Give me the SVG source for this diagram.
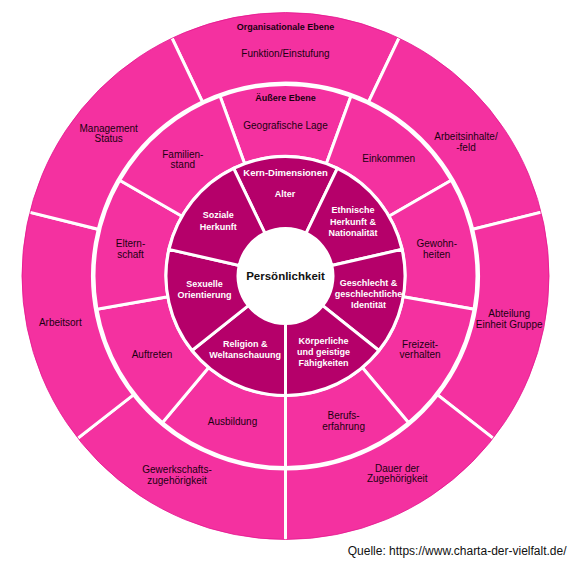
<svg xmlns="http://www.w3.org/2000/svg" width="576" height="564" viewBox="0 0 576 564">
<style>
.o{fill:#F431A0;stroke:#fff;stroke-width:3;stroke-linejoin:miter}
.i{fill:#B5006A;stroke:#fff;stroke-width:3}
text{font-family:"Liberation Sans",Arial,sans-serif;text-anchor:middle}
.t{font-size:10px;fill:#1a0010}
.h{font-size:9px;font-weight:bold;fill:#1a0010}
.w{font-size:9px;font-weight:bold;fill:#fff}
.wh{font-size:9.5px;font-weight:bold;fill:#fff}
</style>
<rect width="576" height="564" fill="#fff"/>
<g id="outer-ring">
<g id="o-funktion"><path class="o" d="M171.41,36.81 A265,265 0 0 1 399.59,36.81 L368.59,101.8 A193,193 0 0 0 202.41,101.8 Z"/><text class="h" x="285.5" y="29.5">Organisationale Ebene</text><text class="t" x="285.5" y="57.3">Funktion/Einstufung</text></g>
<g id="o-arbeitsinhalte"><path class="o" d="M399.59,36.81 A265,265 0 0 1 542.63,211.89 L472.77,229.31 A193,193 0 0 0 368.59,101.8 Z"/><text class="t" x="466" y="140">Arbeitsinhalte/</text><text class="t" x="466" y="150.7">-feld</text></g>
<g id="o-abteilung"><path class="o" d="M542.63,211.89 A265,265 0 0 1 494.32,439.15 L437.59,394.82 A193,193 0 0 0 472.77,229.31 Z"/><text class="t" x="509.2" y="316.7">Abteilung</text><text class="t" x="509.2" y="327.7">Einheit Gruppe</text></g>
<g id="o-dauer"><path class="o" d="M494.32,439.15 A265,265 0 0 1 285.5,541 L285.5,469 A193,193 0 0 0 437.59,394.82 Z"/><text class="t" x="397.2" y="471.7">Dauer der</text><text class="t" x="397.2" y="482">Zugehörigkeit</text></g>
<g id="o-gewerkschaft"><path class="o" d="M285.5,541 A265,265 0 0 1 76.68,439.15 L133.41,394.82 A193,193 0 0 0 285.5,469 Z"/><text class="t" x="177" y="473.3">Gewerkschafts-</text><text class="t" x="177" y="484">zugehörigkeit</text></g>
<g id="o-arbeitsort"><path class="o" d="M76.68,439.15 A265,265 0 0 1 28.37,211.89 L98.23,229.31 A193,193 0 0 0 133.41,394.82 Z"/><text class="t" x="60.3" y="325.7">Arbeitsort</text></g>
<g id="o-management"><path class="o" d="M28.37,211.89 A265,265 0 0 1 171.41,36.81 L202.41,101.8 A193,193 0 0 0 98.23,229.31 Z"/><text class="t" x="108.7" y="131.7">Management</text><text class="t" x="108.7" y="142.3">Status</text></g>
<circle cx="285.5" cy="276" r="263.5" fill="none" stroke="#E3178E" stroke-width="0.8"/>
</g>
<g id="middle-ring">
<g id="m-geografie"><path class="o" d="M220,96.05 A191.5,191.5 0 0 1 351,96.05 L326.37,163.71 A119.5,119.5 0 0 0 244.63,163.71 Z"/><text class="h" x="285.5" y="101">Äußere Ebene</text><text class="t" x="285.5" y="129">Geografische Lage</text></g>
<g id="m-einkommen"><path class="o" d="M351,96.05 A191.5,191.5 0 0 1 451.34,180.25 L388.99,216.25 A119.5,119.5 0 0 0 326.37,163.71 Z"/><text class="t" x="388.7" y="162.3">Einkommen</text></g>
<g id="m-gewohnheiten"><path class="o" d="M451.34,180.25 A191.5,191.5 0 0 1 474.09,309.25 L403.18,296.75 A119.5,119.5 0 0 0 388.99,216.25 Z"/><text class="t" x="436.7" y="246.7">Gewohn-</text><text class="t" x="436.7" y="258.3">heiten</text></g>
<g id="m-freizeit"><path class="o" d="M474.09,309.25 A191.5,191.5 0 0 1 408.59,422.7 L362.31,367.54 A119.5,119.5 0 0 0 403.18,296.75 Z"/><text class="t" x="420.1" y="347.7">Freizeit-</text><text class="t" x="420.1" y="358.3">verhalten</text></g>
<g id="m-beruf"><path class="o" d="M408.59,422.7 A191.5,191.5 0 0 1 285.5,467.5 L285.5,395.5 A119.5,119.5 0 0 0 362.31,367.54 Z"/><text class="t" x="343.6" y="419.3">Berufs-</text><text class="t" x="343.6" y="430">erfahrung</text></g>
<g id="m-ausbildung"><path class="o" d="M285.5,467.5 A191.5,191.5 0 0 1 162.41,422.7 L208.69,367.54 A119.5,119.5 0 0 0 285.5,395.5 Z"/><text class="t" x="232.5" y="425">Ausbildung</text></g>
<g id="m-auftreten"><path class="o" d="M162.41,422.7 A191.5,191.5 0 0 1 96.91,309.25 L167.82,296.75 A119.5,119.5 0 0 0 208.69,367.54 Z"/><text class="t" x="152" y="357.7">Auftreten</text></g>
<g id="m-elternschaft"><path class="o" d="M96.91,309.25 A191.5,191.5 0 0 1 119.66,180.25 L182.01,216.25 A119.5,119.5 0 0 0 167.82,296.75 Z"/><text class="t" x="130.5" y="246.7">Eltern-</text><text class="t" x="130.5" y="258.3">schaft</text></g>
<g id="m-familienstand"><path class="o" d="M119.66,180.25 A191.5,191.5 0 0 1 220,96.05 L244.63,163.71 A119.5,119.5 0 0 0 182.01,216.25 Z"/><text class="t" x="182.8" y="157.7">Familien-</text><text class="t" x="182.8" y="167.7">stand</text></g>
</g>
<g id="inner-ring">
<g id="k-alter"><path class="i" d="M233.65,168.33 A119.5,119.5 0 0 1 337.35,168.33 L306.11,233.2 A47.5,47.5 0 0 0 264.89,233.2 Z"/><text class="wh" x="285.5" y="176">Kern-Dimensionen</text><text class="w" x="285" y="196.7">Alter</text></g>
<g id="k-ethnie"><path class="i" d="M337.35,168.33 A119.5,119.5 0 0 1 402,249.41 L331.81,265.43 A47.5,47.5 0 0 0 306.11,233.2 Z"/><text class="w" x="353" y="213.3">Ethnische</text><text class="w" x="353" y="224.5">Herkunft &amp;</text><text class="w" x="353" y="236">Nationalität</text></g>
<g id="k-geschlecht"><path class="i" d="M402,249.41 A119.5,119.5 0 0 1 378.93,350.51 L322.64,305.62 A47.5,47.5 0 0 0 331.81,265.43 Z"/><text class="w" x="368.5" y="286">Geschlecht &amp;</text><text class="w" x="368.5" y="297">geschlechtliche</text><text class="w" x="368.5" y="308.3">Identität</text></g>
<g id="k-koerper"><path class="i" d="M378.93,350.51 A119.5,119.5 0 0 1 285.5,395.5 L285.5,323.5 A47.5,47.5 0 0 0 322.64,305.62 Z"/><text class="w" x="323.5" y="344">Körperliche</text><text class="w" x="323.5" y="355">und geistige</text><text class="w" x="323.5" y="366">Fähigkeiten</text></g>
<g id="k-religion"><path class="i" d="M285.5,395.5 A119.5,119.5 0 0 1 192.07,350.51 L248.36,305.62 A47.5,47.5 0 0 0 285.5,323.5 Z"/><text class="w" x="245.2" y="347.3">Religion &amp;</text><text class="w" x="245.2" y="358.3">Weltanschauung</text></g>
<g id="k-sexuell"><path class="i" d="M192.07,350.51 A119.5,119.5 0 0 1 169,249.41 L239.19,265.43 A47.5,47.5 0 0 0 248.36,305.62 Z"/><text class="w" x="204.5" y="287.3">Sexuelle</text><text class="w" x="204.5" y="298.3">Orientierung</text></g>
<g id="k-sozial"><path class="i" d="M169,249.41 A119.5,119.5 0 0 1 233.65,168.33 L264.89,233.2 A47.5,47.5 0 0 0 239.19,265.43 Z"/><text class="w" x="218.3" y="218.3">Soziale</text><text class="w" x="218.3" y="230">Herkunft</text></g>
</g>
<g id="center">
<circle cx="285.5" cy="276" r="48" fill="#fff"/>
<text x="285.5" y="280" style="font-size:11.5px;font-weight:bold;fill:#111">Persönlichkeit</text>
</g>
<text x="566.5" y="555" style="font-size:12px;text-anchor:end;fill:#111">Quelle: https://www.charta-der-vielfalt.de/</text>
</svg>
